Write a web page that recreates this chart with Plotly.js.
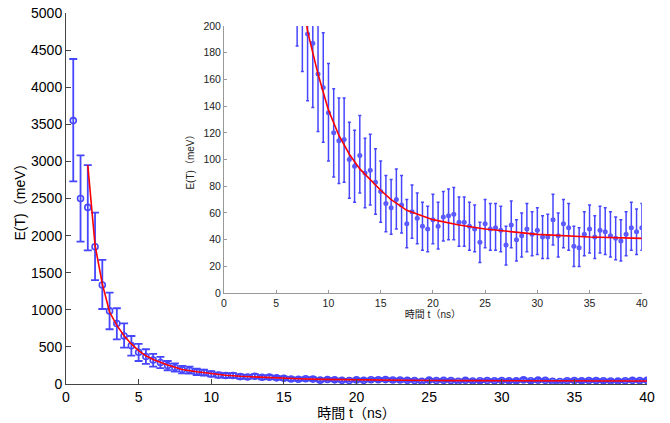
<!DOCTYPE html>
<html>
<head>
<meta charset="utf-8">
<script src="https://cdn.plot.ly/plotly-3.0.1.min.js"></script>
<style>html,body{margin:0;padding:0;background:#fff;}#chart{width:670px;height:423px;}</style>
</head>
<body>
<div id="chart"></div>
<script>
// time points (ns)
const timeNs = [0.5,1,1.5,2,2.5,3,3.5,4,4.5,5,5.5,6,6.5,7,7.5,8,8.5,9,9.5,10,
  10.5,11,11.5,12,12.5,13,13.5,14,14.5,15,15.5,16,16.5,17,17.5,18,18.5,19,19.5,20,
  20.5,21,21.5,22,22.5,23,23.5,24,24.5,25,25.5,26,26.5,27,27.5,28,28.5,29,29.5,30,
  30.5,31,31.5,32,32.5,33,33.5,34,34.5,35,35.5,36,36.5,37,37.5,38,38.5,39,39.5,40];
// measured E(T) (meV)
const energy = [3550,2500,2380,1850,1335,985,815,647,517,427,370,322,290,248,222,194,187,164,154,135,
  120,114,115,100,95,103,90,92,83,76,67,64,70,66,52,61,56,50,48,55,
  50,57,58,59,53,53,50,48,38,52,48,49,47,36,51,40,43,48,44,47,
  42,42,55,43,52,49,35,34,44,48,42,47,46,43,41,39,44,49,46,49];
const errPlus = [830,580,570,460,337,247,206,171,130,113,98,85,75,62,56,50,48,43,41,37,
  33,32,31,28,27,30,26,27,25,23,21,21,23,22,18,20,19,18,17,19,
  18,19,20,20,19,19,18,18,15,18,19,18,18,14,18,15,17,19,17,17,
  16,17,19,17,18,18,15,15,17,18,16,18,18,18,16,16,17,19,17,18];
const errMinus = [820,580,580,450,324,247,213,157,135,117,100,88,75,63,56,50,48,43,41,36,
  33,32,32,29,27,28,26,26,24,23,21,20,22,21,18,20,19,18,17,18,
  17,18,18,19,18,18,18,17,15,18,16,17,16,15,17,16,16,17,16,18,
  16,16,19,16,18,17,15,14,16,18,16,17,17,16,16,15,16,17,17,17];
// fitted curve
const fitT = [1.5,2,2.5,3,3.5,4,4.5,5,5.5,6,7,8,9,10,11,12,13,14,15,16,17.5,20,22.5,25,27.5,30,35,40];
const fitE = [2950,1870,1350,970,790,650,540,450,380,330,255,196,164,137,118,104,93,85,77,70,62,55,51,48,46,44,42,41];

const blue = 'rgb(70,70,255)';
const red = 'rgb(255,0,0)';
const tickFont = {family:'Liberation Sans, Arial, sans-serif', size:14, color:'#000'};
const cjk = 'Liberation Sans, Noto Sans CJK JP, sans-serif';

const traces = [
  {x:timeNs, y:energy, type:'scatter', mode:'markers', xaxis:'x', yaxis:'y',
   marker:{symbol:'circle-open', size:6, color:blue, line:{width:1.6, color:blue}},
   error_y:{type:'data', symmetric:false, array:errPlus, arrayminus:errMinus, color:blue, thickness:1.8, width:4}},
  {x:fitT, y:fitE, type:'scatter', mode:'lines', xaxis:'x', yaxis:'y',
   line:{color:red, width:1.6}},
  {x:timeNs, y:energy, type:'scatter', mode:'markers', xaxis:'x2', yaxis:'y2',
   marker:{symbol:'circle', size:5, color:'rgb(90,90,255)'},
   error_y:{type:'data', symmetric:false, array:errPlus, arrayminus:errMinus, color:blue, thickness:1.5, width:1.5}},
  {x:fitT, y:fitE, type:'scatter', mode:'lines', xaxis:'x2', yaxis:'y2',
   line:{color:red, width:1.6}}
];

const layout = {
  width:670, height:423,
  margin:{l:66, r:23, t:13, b:39},
  paper_bgcolor:'#fff', plot_bgcolor:'rgba(0,0,0,0)',
  showlegend:false,
  xaxis:{domain:[0,1], range:[0,40], tickvals:[0,5,10,15,20,25,30,35,40],
    showgrid:false, zeroline:false, showline:true, linecolor:'#444', linewidth:1,
    ticks:'inside', ticklen:5, tickcolor:'#444', tickfont:tickFont,
    title:{text:'時間 t（ns）', font:{family:cjk, size:14, color:'#000'}, standoff:4}},
  yaxis:{domain:[0,1], range:[0,5000], tickvals:[0,500,1000,1500,2000,2500,3000,3500,4000,4500,5000],
    showgrid:false, zeroline:false, showline:true, linecolor:'#444', linewidth:1,
    ticks:'inside', ticklen:5, tickcolor:'#444', tickfont:tickFont,
    title:{text:'E(T)（meV）', font:{family:cjk, size:14, color:'#000'}, standoff:2}},
  xaxis2:{domain:[0.272,0.991], anchor:'y2', range:[0,40], tickvals:[0,5,10,15,20,25,30,35,40],
    showgrid:false, zeroline:false, showline:true, linecolor:'#999', linewidth:1,
    ticks:'inside', ticklen:3, tickcolor:'#999',
    tickfont:{family:'Liberation Sans, Arial, sans-serif', size:10.5, color:'#222'},
    title:{text:'時間 t（ns）', font:{family:cjk, size:10, color:'#222'}, standoff:2}},
  yaxis2:{domain:[0.245,0.965], anchor:'x2', range:[0,200], tickvals:[0,20,40,60,80,100,120,140,160,180,200],
    showgrid:false, zeroline:false, showline:true, linecolor:'#999', linewidth:1,
    ticks:'inside', ticklen:3, tickcolor:'#999',
    tickfont:{family:'Liberation Sans, Arial, sans-serif', size:10.5, color:'#222'},
    title:{text:'E(T)（meV）', font:{family:cjk, size:10, color:'#222'}, standoff:6}}
};

Plotly.newPlot('chart', traces, layout, {displayModeBar:false, staticPlot:true});
</script>
</body>
</html>
